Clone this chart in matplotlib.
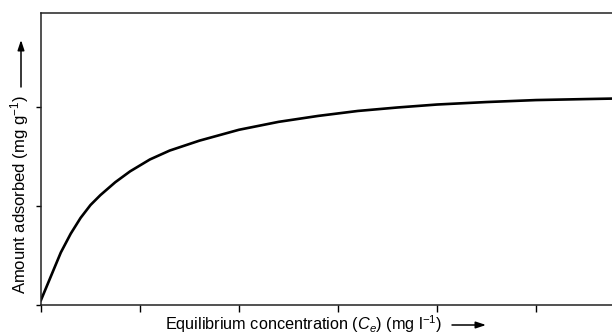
import matplotlib
matplotlib.use("Agg")
import matplotlib.pyplot as plt
import numpy as np

# digitised isotherm (arbitrary units, tick spacing = 1)
conc = [0.00, 0.10, 0.20, 0.30, 0.40, 0.50, 0.60, 0.75, 0.90, 1.10, 1.30,
        1.60, 2.00, 2.40, 2.80, 3.20, 3.60, 4.00, 4.50, 5.00, 5.50, 5.77]
adsorbed = [0.05, 0.29, 0.53, 0.72, 0.88, 1.01, 1.11, 1.24, 1.35, 1.47, 1.56,
            1.66, 1.77, 1.85, 1.91, 1.96, 1.995, 2.025, 2.05, 2.07, 2.08, 2.085]
xticks = [0, 1, 2, 3, 4, 5]
yticks = [0, 1, 2]

plt.rcParams['font.family'] = ['Liberation Sans', 'DejaVu Sans']
plt.rcParams['mathtext.fontset'] = 'custom'
plt.rcParams['mathtext.rm'] = 'Liberation Sans'
plt.rcParams['mathtext.it'] = 'Liberation Sans:italic'

W, H = 612, 335
fig = plt.figure(figsize=(W / 100, H / 100), dpi=100)
ax = fig.add_axes([41 / W, 30 / H, 1 - 41 / W, 292 / H])

ax.plot(conc, adsorbed, color="black", linewidth=1.9)

ax.set_xlim(0, (W - 41) / 99)
ax.set_ylim(0, 292 / 99)
ax.set_xticks(xticks)
ax.set_yticks(yticks)
ax.set_xticklabels([])
ax.set_yticklabels([])
ax.tick_params(axis="x", direction="out", length=5, width=1)
ax.tick_params(axis="y", direction="out", length=3.5, width=1)
ax.spines["right"].set_visible(False)
for s in ["left", "top", "bottom"]:
    ax.spines[s].set_linewidth(1.1)
    ax.spines[s].set_color("#222222")

# axis titles with arrows
fig.text(304 / W, 1 - 330 / H, r"Equilibrium concentration ($C_e$) (mg l$^{-1}$)",
         ha="center", va="baseline", fontsize=11.7)
fig.text(20 / W, 1 - 195 / H, r"Amount adsorbed (mg g$^{-1}$)",
         ha="center", va="center", rotation=90, fontsize=12)

arrow = dict(arrowstyle="-|>,head_length=0.6,head_width=0.2", color="black",
             linewidth=1.1, shrinkA=0, shrinkB=0)
ax.annotate("", xy=(486 / W, 1 - 325 / H), xytext=(452 / W, 1 - 325 / H),
            xycoords="figure fraction", arrowprops=arrow)
ax.annotate("", xy=(21 / W, 1 - 40 / H), xytext=(21 / W, 1 - 87 / H),
            xycoords="figure fraction", arrowprops=arrow)

fig.savefig("out.png", dpi=100)
